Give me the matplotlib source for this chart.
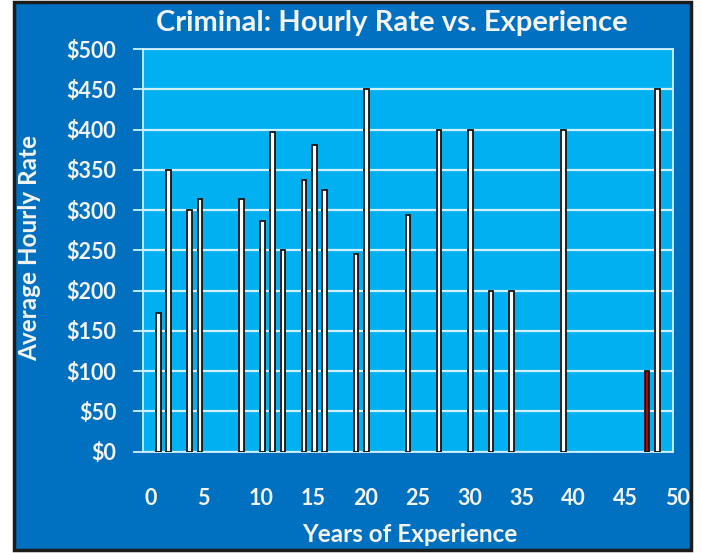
import numpy as np
import matplotlib
matplotlib.use("Agg")
import matplotlib.pyplot as plt
from matplotlib.patches import Rectangle
import matplotlib.transforms as mtransforms

# Data
years = [1, 2, 4, 5, 9, 11, 12, 13, 15, 16, 17, 20, 21, 25, 28, 31, 33, 35, 40, 48, 49]
rates = [172, 350, 300, 314, 314, 286, 397, 250, 337, 381, 325, 246, 450, 294, 400, 400, 200, 200, 400, 100, 450]
highlight_year = 48
x_ticks = list(range(0, 51, 5))
y_ticks = list(range(0, 501, 50))
y_labels = ["$%d" % v for v in y_ticks]

outer_blue = "#0070C0"
plot_blue = "#00B0F0"
grid_col = "#CFF1FF"
txt = "#F4F4F4"
font = "Lato"

fig = plt.figure(figsize=(7.01, 5.53), dpi=100)
fig.patch.set_facecolor("white")

# outer dark blue panel with black frame
W, H = 701.0, 553.0
frame = Rectangle((14 / W, 3 / H), 677 / W, 548 / H, transform=fig.transFigure,
                  facecolor=outer_blue, edgecolor="#1c1c1c", linewidth=2.5, zorder=-5)
fig.patches.append(frame)

ax = fig.add_axes([142.7 / W, 1 - 451.7 / H, (673 - 142.7) / W, (451.7 - 49) / H])
ax.set_zorder(2)
ax.set_facecolor(plot_blue)
ax.set_axisbelow(True)

colors = ["#C00000" if y == highlight_year else "white" for y in years]
ax.bar(years, rates, width=0.45, color=colors, edgecolor="#141414", linewidth=1.3, zorder=3)

ax.set_xlim(-0.5, 50.5)
ax.set_ylim(0, 500)
ax.set_yticks(y_ticks)
ax.set_yticklabels(y_labels)
ax.set_xticks(x_ticks)
ax.set_xticklabels([str(v) for v in x_ticks])

ax.grid(axis="y", color=grid_col, linewidth=1.6)
ax.grid(axis="x", visible=False)
for s in ax.spines.values():
    s.set_color(grid_col)
    s.set_linewidth(1.3)

ax.tick_params(axis="y", colors=grid_col, length=7, width=1.3, pad=12,
               labelcolor=txt, labelsize=15.5)
ax.tick_params(axis="x", length=0, pad=26, labelcolor=txt, labelsize=15.5)
for lab in ax.get_yticklabels() + ax.get_xticklabels():
    lab.set_fontfamily(font)
    lab.set_fontweight("bold")
offset = mtransforms.ScaledTranslation(-3 / 100, 0, fig.dpi_scale_trans)
for lab in ax.get_xticklabels():
    lab.set_horizontalalignment("left")
    lab.set_transform(lab.get_transform() + offset)

fig.text(392 / W, 1 - 23 / H, "Criminal: Hourly Rate vs. Experience", color=txt,
         fontsize=21, fontweight="bold", family=font, ha="center", va="center")
fig.text(410 / W, 1 - 534 / H, "Years of Experience", color=txt,
         fontsize=17.5, fontweight="bold", family=font, ha="center", va="center")
fig.text(30 / W, 1 - 248 / H, "Average Hourly Rate", color=txt, rotation=90,
         fontsize=17.5, fontweight="bold", family=font, ha="center", va="center")

fig.savefig("out.png", dpi=100, facecolor=fig.get_facecolor())
